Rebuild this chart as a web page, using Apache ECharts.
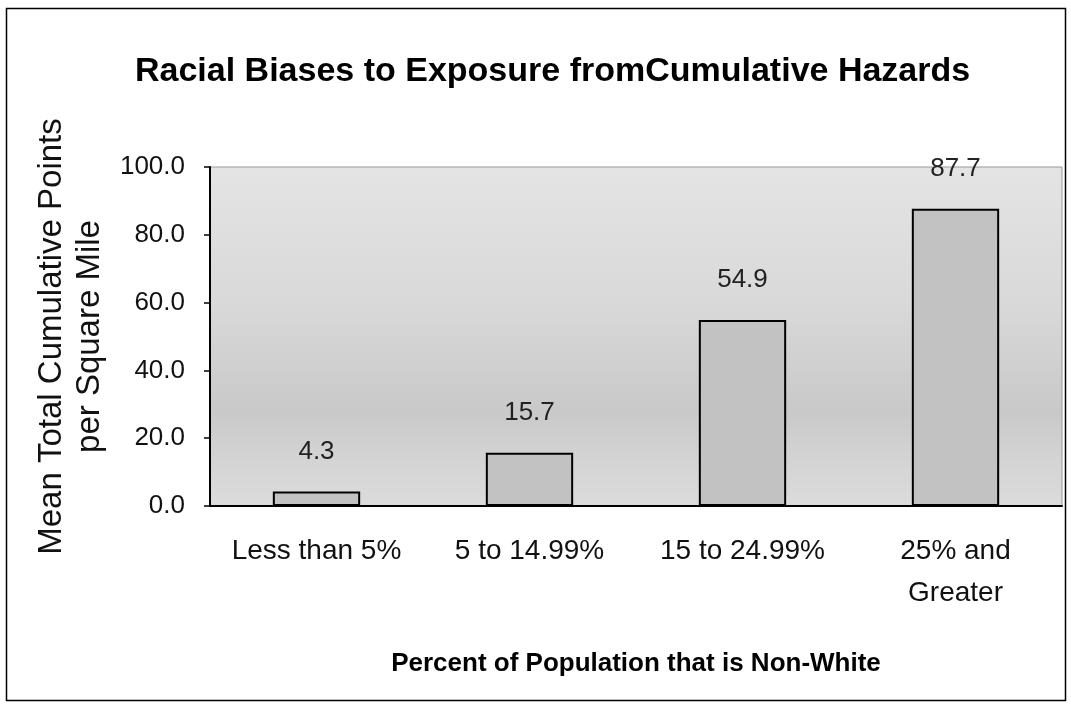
<!DOCTYPE html>
<html>
<head>
<meta charset="utf-8">
<script src="https://cdn.jsdelivr.net/npm/echarts@6/dist/echarts.min.js"></script>
<style>
  html, body { margin: 0; padding: 0; background: #fff; }
  #chart { width: 1071px; height: 708px; }
</style>
</head>
<body>
<div id="chart"></div>
<script>
// chart data
const categories = ["Less than 5%", "5 to 14.99%", "15 to 24.99%", "25% and\nGreater"];
const meanPoints = [4.3, 15.7, 54.9, 87.7];
const yTicks = [0, 20, 40, 60, 80, 100];

const chart = echarts.init(document.getElementById("chart"));

const font = "Liberation Sans, Arial, sans-serif";

const option = {
  backgroundColor: "#fff",
  animation: false,
  title: {
    text: "Racial Biases to Exposure fromCumulative Hazards",
    left: 130,
    top: 50,
    textStyle: {
      fontFamily: font,
      fontSize: 34,
      fontWeight: "bold",
      color: "#000",
    },
  },
  graphic: [
    {
      // outer frame
      type: "rect",
      shape: { x: 6.5, y: 8.5, width: 1059, height: 692 },
      style: { fill: null, stroke: "#000", lineWidth: 1.5 },
      z: 0,
    },
  ],
  grid: {
    left: 210,
    right: 9,
    top: 167,
    bottom: 202,
    outerBoundsMode: "none",
    show: true,
    backgroundColor: new echarts.graphic.LinearGradient(0, 0, 0, 1, [
      { offset: 0, color: "#e4e4e4" },
      { offset: 0.4, color: "#d9d9d9" },
      { offset: 0.72, color: "#c9c9c9" },
      { offset: 0.85, color: "#d3d3d3" },
      { offset: 1, color: "#dcdcdc" },
    ]),
    borderColor: "#999",
    borderWidth: 1,
  },
  xAxis: {
    type: "category",
    data: categories,
    name: "Percent of Population that is Non-White",
    nameLocation: "middle",
    nameGap: 145,
    nameTextStyle: {
      fontFamily: font,
      fontSize: 26,
      fontWeight: "bold",
      color: "#000",
    },
    axisLine: { lineStyle: { color: "#000", width: 2 } },
    axisTick: { length: 9, lineStyle: { color: "#000", width: 2 } },
    axisLabel: {
      fontFamily: font,
      fontSize: 28,
      color: "#111",
      margin: 24,
      lineHeight: 42,
      verticalAlign: "top",
      interval: 0,
    },
  },
  yAxis: {
    type: "value",
    min: 0,
    max: yTicks[yTicks.length - 1],
    interval: 20,
    name: "Mean Total Cumulative Points\nper Square Mile",
    nameLocation: "middle",
    nameGap: 99,
    nameRotate: 90,
    nameTextStyle: {
      fontFamily: font,
      fontSize: 33,
      color: "#111",
      lineHeight: 38,
    },
    axisLine: { show: true, lineStyle: { color: "#000", width: 2 } },
    axisTick: { show: true, length: 6, lineStyle: { color: "#000", width: 1.5 } },
    splitLine: { show: false },
    axisLabel: {
      fontFamily: font,
      fontSize: 26,
      color: "#111",
      margin: 25,
      formatter: (v) => v.toFixed(1),
    },
  },
  series: [
    {
      type: "bar",
      data: meanPoints,
      barWidth: "41%",
      itemStyle: {
        color: "#c2c2c2",
        borderColor: "#000",
        borderWidth: 2,
      },
      label: {
        show: true,
        position: "top",
        distance: 27,
        fontFamily: font,
        fontSize: 26,
        color: "#222",
        formatter: (p) => p.value.toFixed(1),
      },
    },
  ],
};

chart.setOption(option);
window.addEventListener("resize", () => chart.resize());
</script>
</body>
</html>
